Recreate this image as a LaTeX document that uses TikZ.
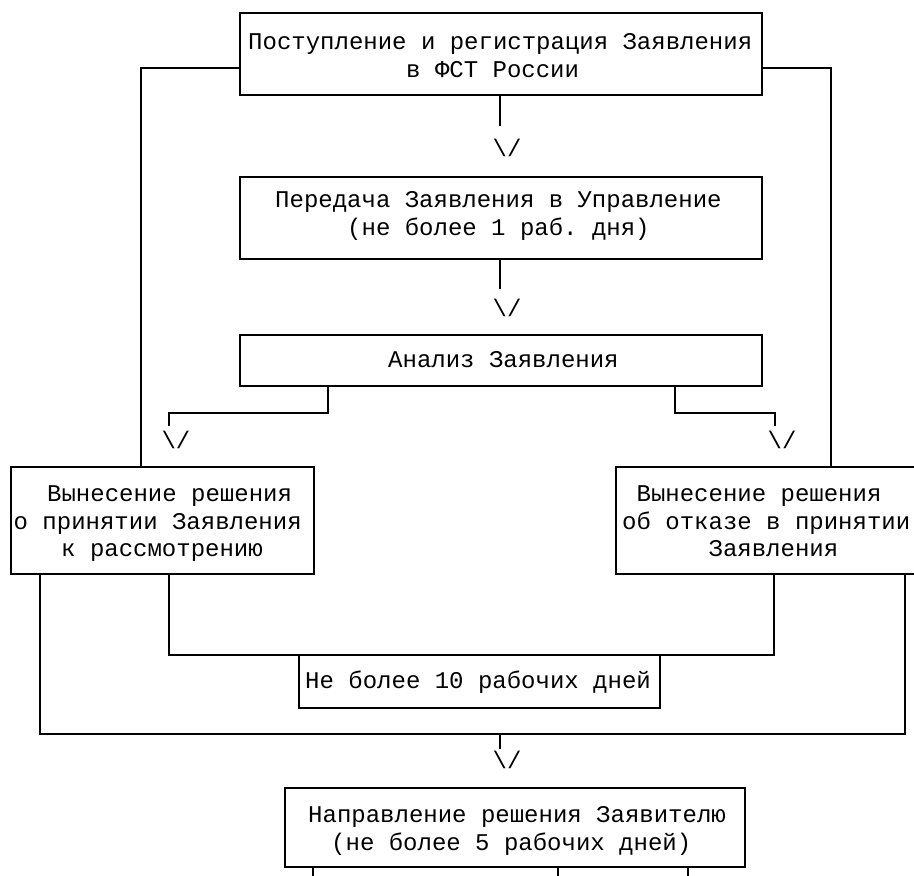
\documentclass[tikz,border=0pt]{standalone}
\usepackage{fontspec}
\setmonofont{Liberation Mono}
\usetikzlibrary{fit}
\begin{document}
\begin{tikzpicture}[x=1pt,y=-1pt,
  ln/.style={line width=1.6pt, line cap=rect},
  box/.style={draw, line width=1.6pt, inner sep=0pt},
  txt/.style={font=\ttfamily\fontsize{24}{28}\selectfont, inner sep=0pt, anchor=base west},
  arr/.style={font=\ttfamily\fontsize{24}{28}\selectfont, inner sep=0pt, anchor=base}]
\useasboundingbox (0,0) rectangle (914,876);
\clip (0,0) rectangle (914,876);
% boxes
\path (240,13) coordinate (b1a) (762,95) coordinate (b1b);
\node[box, fit=(b1a)(b1b)] (b1) {};
\path (240,177) coordinate (b2a) (762,259) coordinate (b2b);
\node[box, fit=(b2a)(b2b)] (b2) {};
\path (240,335) coordinate (b3a) (762,386) coordinate (b3b);
\node[box, fit=(b3a)(b3b)] (b3) {};
\path (11,467) coordinate (bla) (314,574) coordinate (blb);
\node[box, fit=(bla)(blb)] (bl) {};
\path (616,467) coordinate (bra) (930,574) coordinate (brb);
\node[box, fit=(bra)(brb)] (br) {};
\path (299,655) coordinate (b10a) (660,708) coordinate (b10b);
\node[box, fit=(b10a)(b10b)] (b10) {};
\path (285,788) coordinate (bfa) (745,867) coordinate (bfb);
\node[box, fit=(bfa)(bfb)] (bf) {};
% texts
\node[txt] (t1a) at (248,49) {Поступление и регистрация Заявления};
\node[txt] (t1b) at (406,77) {в ФСТ России};
\node[txt] (t2a) at (275,207) {Передача Заявления в Управление};
\node[txt] (t2b) at (347,235) {(не более 1 раб. дня)};
\node[txt] (t3) at (388,367) {Анализ Заявления};
\node[txt] (tla) at (47,501) {Вынесение решения};
\node[txt] (tlb) at (13.5,529) {о принятии Заявления};
\node[txt] (tlc) at (61,556) {к рассмотрению};
\node[txt] (tra) at (636.4,501) {Вынесение решения};
\node[txt] (trb) at (622,529) {об отказе в принятии};
\node[txt] (trc) at (708.4,556) {Заявления};
\node[txt] (t10) at (305,688) {Не более 10 рабочих дней};
\node[txt] (tfa) at (308,822) {Направление решения Заявителю};
\node[txt] (tfb) at (331,850) {(не более 5 рабочих дней)};
% arrows
\node[arr] (a1) at (507,156) {\textbackslash/};
\node[arr] (a2) at (507,316) {\textbackslash/};
\node[arr] (a3) at (176,448) {\textbackslash/};
\node[arr] (a4) at (782,448) {\textbackslash/};
\node[arr] (a5) at (507,768) {\textbackslash/};
% coordinates
\coordinate (yL) at (141,68);
\coordinate (yR) at (831,68);
\coordinate (s1) at (500,125);
\coordinate (s2) at (500,288);
\coordinate (s3) at (169,425);
\coordinate (s4) at (775,425);
\coordinate (h5) at (500,734);
\coordinate (s5) at (500,748);
% connectors
\draw[ln] (b1.south -| s1) -- (s1);
\draw[ln] (b2.south -| s2) -- (s2);
\draw[ln] (b1.west |- yL) -| (bl.north -| yL);
\draw[ln] (b1.east |- yR) -| (br.north -| yR);
\draw[ln] (b3.south -| 328,0) -- (328,413) -| (s3);
\draw[ln] (b3.south -| 675,0) -- (675,413) -| (s4);
\draw[ln] (bl.south -| 40,0) |- (905,734) -- (br.south -| 905,0);
\draw[ln] (bl.south -| 169,0) |- (774,655) -- (br.south -| 774,0);
\draw[ln] (h5) -- (s5);
\draw[ln] (bf.south -| 313,0) -- ++(0,12);
\draw[ln] (bf.south -| 558,0) -- ++(0,12);
\draw[ln] (bf.south -| 688,0) -- ++(0,12);
\end{tikzpicture}
\end{document}
